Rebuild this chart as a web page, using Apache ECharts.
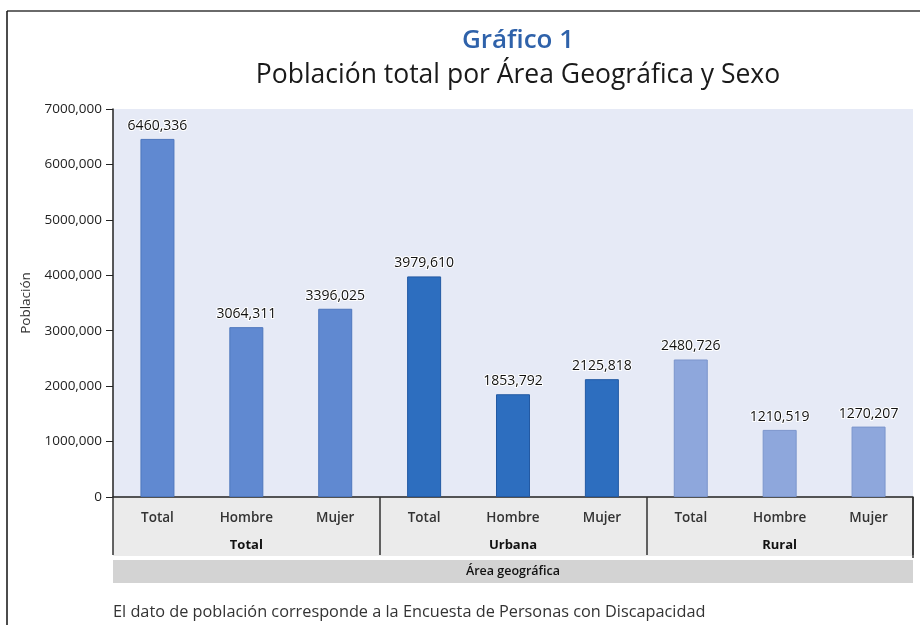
<!DOCTYPE html>
<html>
<head>
<meta charset="utf-8">
<script src="https://cdn.jsdelivr.net/npm/echarts@6/dist/echarts.min.js"></script>
<style>
  html, body { margin: 0; padding: 0; background: #fff; }
  #chart { width: 920px; height: 625px; }
</style>
</head>
<body>
<div id="chart"></div>
<script>
// categories and values
var categories = ['Total', 'Hombre', 'Mujer', 'Total', 'Hombre', 'Mujer', 'Total', 'Hombre', 'Mujer'];
var groups = ['Total', 'Urbana', 'Rural'];
var values = [6460336, 3064311, 3396025, 3979610, 1853792, 2125818, 2480726, 1210519, 1270207];
var yTicks = [0, 1000000, 2000000, 3000000, 4000000, 5000000, 6000000, 7000000];

var groupColors = ['#6089d1', '#2d6ebf', '#8ea7dc'];
var groupBorders = ['#4d76bd', '#2259a3', '#7b95cc'];
var font = '"Open Sans", sans-serif';

var G = { left: 113, right: 7, top: 109, bottom: 128 };

function fmt(v) {
    if (v === 0) return '0';
    var hi = Math.floor(v / 1000);
    var lo = String(v % 1000);
    while (lo.length < 3) lo = '0' + lo;
    return hi + ',' + lo;
}

var chart = echarts.init(document.getElementById('chart'));

var option = {
    animation: false,
    textStyle: { fontFamily: font },
    title: [{
        text: 'Gráfico 1',
        left: 513, top: 23, textAlign: 'center',
        textStyle: { color: '#2f62aa', fontSize: 26, fontWeight: 600, fontFamily: font }
    }, {
        text: 'Población total por Área Geográfica y Sexo',
        left: 513, top: 57, textAlign: 'center',
        textStyle: { color: '#1a1a1a', fontSize: 26.5, fontWeight: 'normal', fontFamily: font }
    }],
    grid: { left: G.left, right: G.right, top: G.top, bottom: G.bottom, show: true,
        backgroundColor: '#e6eaf6', borderWidth: 0 },
    xAxis: [{
        type: 'category',
        data: categories,
        axisLine: { lineStyle: { color: '#222', width: 1.5 } },
        axisTick: { show: false },
        axisLabel: { color: '#333', fontSize: 13.5, fontWeight: 600, margin: 14, fontFamily: font }
    }, {
        type: 'category',
        position: 'bottom',
        data: groups,
        axisLine: { show: false },
        axisTick: { show: true, length: 58, lineStyle: { color: '#333', width: 1.5 } },
        axisLabel: { color: '#111', fontSize: 13, fontWeight: 'bold', margin: 42, fontFamily: font }
    }],
    yAxis: {
        type: 'value',
        min: 0, max: 7000000, interval: 1000000,
        name: 'Población',
        nameLocation: 'middle',
        nameGap: 80,
        nameTextStyle: { color: '#333', fontSize: 13.5, fontFamily: font },
        axisLine: { show: true, lineStyle: { color: '#222', width: 1.5 } },
        axisTick: { show: true, length: 7, lineStyle: { color: '#222' } },
        axisLabel: { color: '#222', fontSize: 13.5, margin: 11, fontFamily: font,
            formatter: function (v) { return yTicks.indexOf(v) >= 0 ? fmt(v) : ''; } },
        splitLine: { show: false }
    },
    graphic: [
        // border lines of the figure
        { type: 'line', shape: { x1: 7, y1: 11, x2: 920, y2: 11 }, style: { stroke: '#6a6a6a', lineWidth: 2 } },
        { type: 'line', shape: { x1: 7, y1: 11, x2: 7, y2: 625 }, style: { stroke: '#111', lineWidth: 1.5 } },
        // category area background
        { type: 'rect', z: -10, shape: { x: 113, y: 497, width: 800, height: 59 }, style: { fill: '#ebebeb' } },
        { type: 'line', shape: { x1: 913, y1: 497, x2: 913, y2: 558 }, style: { stroke: '#333', lineWidth: 1.5 } },
        // axis title band
        { type: 'rect', z: -10, shape: { x: 113, y: 560, width: 800, height: 23 }, style: { fill: '#d3d3d3' } },
        { type: 'text', x: 513, y: 571, style: { text: 'Área geográfica', align: 'center', verticalAlign: 'middle',
            fill: '#111', font: '600 12.5px ' + font } },
        // footnote
        { type: 'text', x: 113, y: 612, style: { text: 'El dato de población corresponde a la Encuesta de Personas con Discapacidad',
            align: 'left', verticalAlign: 'middle', fill: '#333', font: '16.3px ' + font } }
    ],
    series: [{
        type: 'bar',
        barWidth: 34,
        data: values.map(function (v, i) {
            var g = Math.floor(i / 3);
            return { value: v, itemStyle: { color: groupColors[g], borderColor: groupBorders[g], borderWidth: 1 } };
        }),
        label: {
            show: true, position: 'top', distance: 6,
            color: '#111', fontSize: 14, fontFamily: font,
            textBorderColor: '#fff', textBorderWidth: 2,
            formatter: function (p) { return fmt(p.value); }
        }
    }]
};

chart.setOption(option);
</script>
</body>
</html>
